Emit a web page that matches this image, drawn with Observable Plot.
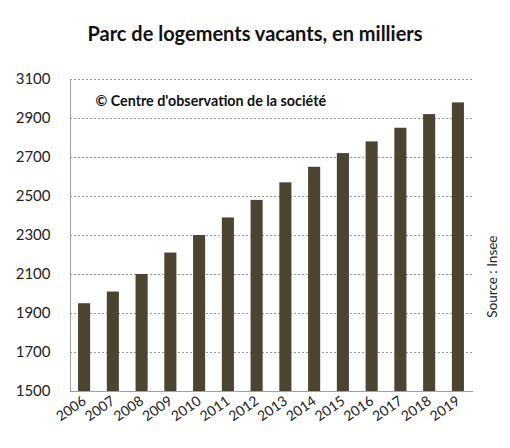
<!DOCTYPE html>
<html>
<head>
<meta charset="utf-8">
<script src="https://cdn.jsdelivr.net/npm/d3@7"></script>
<script src="https://cdn.jsdelivr.net/npm/@observablehq/plot@0.6"></script>
<style>
  body { margin: 0; background: #fff; font-family: Lato, sans-serif; }
  #title { height: 55px; line-height: 66px; text-align: center; font-weight: bold; font-size: 20px; color: #111; }
</style>
</head>
<body>
<div id="title">Parc de logements vacants, en milliers</div>
<div id="chart"></div>
<script>
// années et parc de logements vacants (milliers)
const annees = ["2006","2007","2008","2009","2010","2011","2012","2013","2014","2015","2016","2017","2018","2019"]
const vacants = [1950, 2010, 2100, 2210, 2300, 2390, 2480, 2570, 2650, 2720, 2780, 2850, 2920, 2980]
const yTicks = [1500, 1700, 1900, 2100, 2300, 2500, 2700, 2900, 3100]

const data = annees.map((a, i) => ({annee: a, valeur: vacants[i]}))

let chart = Plot.plot({
  width: 510,
  height: 393,
  marginTop: 24,
  marginLeft: 70,
  marginRight: 38,
  marginBottom: 57,
  style: {fontFamily: "Lato, sans-serif", fontSize: "14px", color: "#222", background: "#fff"},
  x: {domain: annees, paddingInner: 0.58, paddingOuter: 0.28, round: false, label: null, tickSize: 0, tickRotate: -35, tickPadding: 8},
  y: {domain: [1500, 3100], ticks: yTicks, tickFormat: d => String(d), label: null, tickSize: 0, tickPadding: 20},
  marks: [
    Plot.gridY(yTicks, {stroke: "#9a9a9a", strokeOpacity: 1, strokeDasharray: "2,2"}),
    Plot.barY(data, {x: "annee", y: "valeur", fill: "#4b4431", clip: true}),
    Plot.frame({anchor: "left", stroke: "#a0a0a0"}),
    Plot.frame({anchor: "bottom", stroke: "#a0a0a0"}),
    Plot.axisY({ticks: yTicks, tickFormat: d => String(d), tickSize: 0, tickPadding: 20, fontSize: 15, label: null}),
    Plot.text(["© Centre d'observation de la société"], {
      frameAnchor: "top-left", dx: 25, dy: 16, fontWeight: "bold", fontSize: 14.3, fill: "#111"
    }),
    Plot.text(["Source : Insee"], {
      frameAnchor: "right", dx: 20, dy: 0, rotate: -90, fontSize: 13.5, fill: "#222"
    })
  ]
})

d3.select('#chart').append(() => chart)
</script>
</body>
</html>
